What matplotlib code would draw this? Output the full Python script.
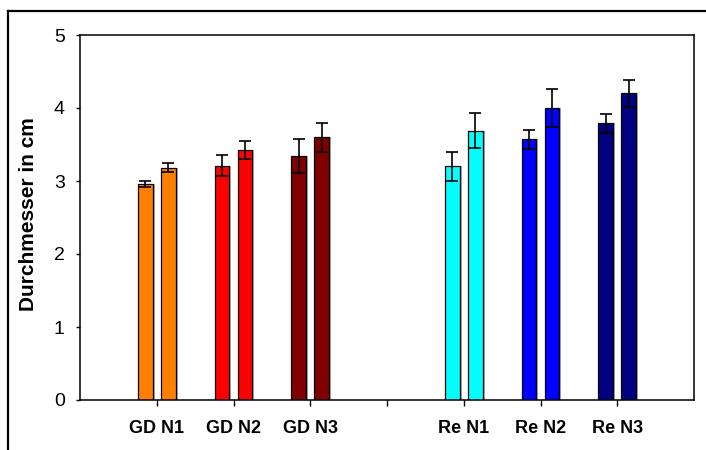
import numpy as np
import matplotlib.pyplot as plt
from matplotlib.lines import Line2D

plt.rcParams['font.family'] = ['Liberation Sans', 'DejaVu Sans']

# Kategorien (leerer Platz zwischen GD und Re)
categories = ['GD N1', 'GD N2', 'GD N3', '', 'Re N1', 'Re N2', 'Re N3']
groups = ['GD N1', 'GD N2', 'GD N3', 'Re N1', 'Re N2', 'Re N3']
colors = ['#FF8000', '#FF0000', '#800000', '#00FFFF', '#0000FF', '#000080']

# Durchmesser in cm, jeweils zwei Balken pro Gruppe
values_a = [2.96, 3.21, 3.34, 3.20, 3.57, 3.79]
values_b = [3.18, 3.42, 3.60, 3.69, 4.00, 4.20]
err_a = [0.045, 0.14, 0.235, 0.20, 0.13, 0.13]
err_b = [0.06, 0.125, 0.20, 0.24, 0.26, 0.18]

fig = plt.figure(figsize=(7.06, 4.5), dpi=100)
ax = fig.add_axes([80 / 706, 1 - 400 / 450, 614 / 706, 365 / 450])

cat_pos = np.arange(1, len(categories) + 1)
pos = np.array([p for p, c in zip(cat_pos, categories) if c])

width = 0.19
off = 0.15
shadow_dx = 2 / 76.75

for x, va, vb, ea, eb, col in zip(pos, values_a, values_b, err_a, err_b, colors):
    for xx, v, e in ((x - off, va, ea), (x + off, vb, eb)):
        # Schatten
        ax.bar(xx + shadow_dx, v, width, color='#b0b0b0', zorder=1)
        ax.bar(xx, v, width, color=col, edgecolor='black', linewidth=0.9, zorder=2)
        ax.errorbar(xx, v, yerr=e, fmt='none', ecolor='black', elinewidth=1.2,
                    capsize=4.3, capthick=1.2, zorder=3)

ax.set_xlim(0, 8)
ax.set_ylim(0, 5)
ax.set_yticks(range(0, 6))
ax.set_xticks(cat_pos)
ax.set_xticklabels(categories, fontsize=13, fontweight='bold')
ax.tick_params(axis='y', labelsize=14, length=3, width=1, direction='out', pad=8)
ax.tick_params(axis='x', length=4, width=1, direction='out', pad=10.5)
for s in ax.spines.values():
    s.set_linewidth(1.1)
    s.set_color('black')

ax.set_ylabel('Durchmesser in cm', fontsize=15, fontweight='bold')
ax.yaxis.set_label_coords(-0.068, 0.51)

# äußerer Rahmen (rechts und unten abgeschnitten)
fig.add_artist(Line2D([7.5 / 706, 7.5 / 706], [0, 1 - 11 / 450], color='black', lw=1.6,
                      transform=fig.transFigure))
fig.add_artist(Line2D([7.5 / 706, 1], [1 - 11 / 450, 1 - 11 / 450], color='black', lw=1.6,
                      transform=fig.transFigure))

fig.savefig('out.png', dpi=100)
